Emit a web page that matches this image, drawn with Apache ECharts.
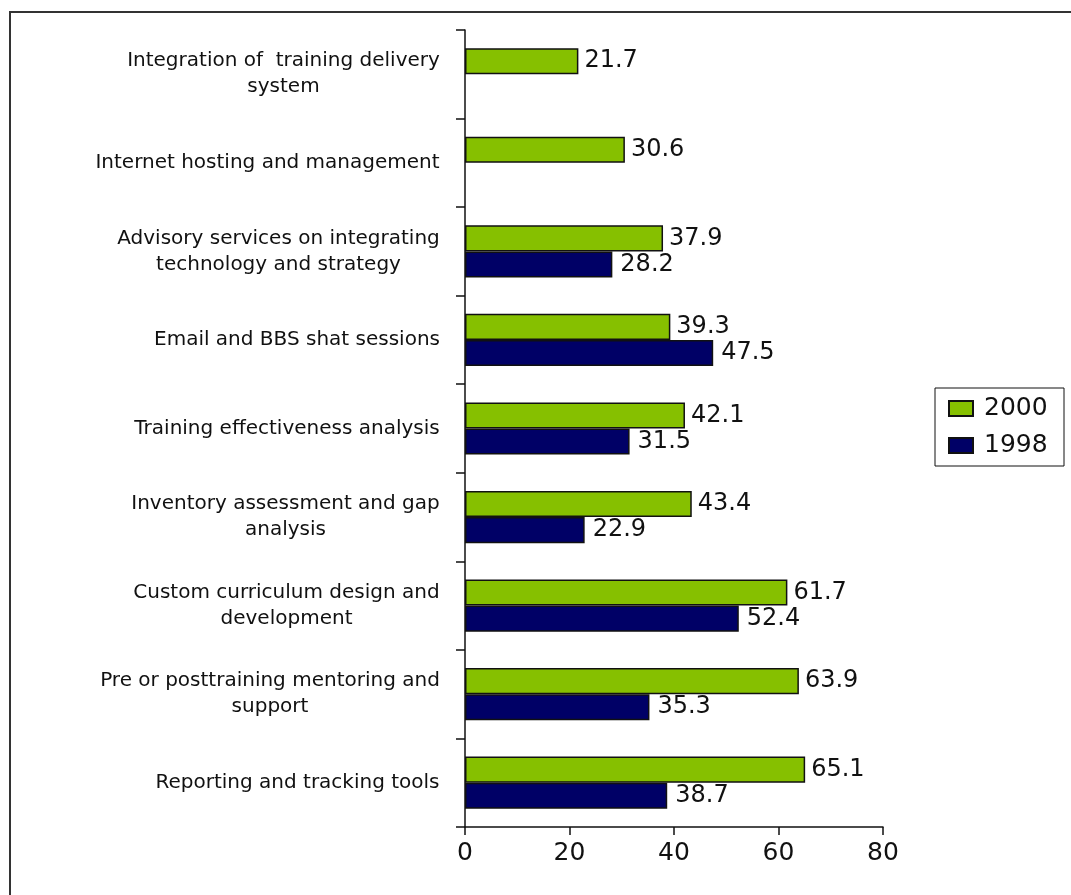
<!DOCTYPE html>
<html>
<head>
<meta charset="utf-8">
<script src="https://cdn.jsdelivr.net/npm/echarts@6/dist/echarts.min.js"></script>
<style>
  html, body { margin: 0; padding: 0; background: #fff; }
  #chart { width: 1071px; height: 895px; }
</style>
</head>
<body>
<div id="chart"></div>
<script>
// Service categories, top to bottom
const categories = [
  'Integration of  training delivery\nsystem',
  'Internet hosting and management',
  'Advisory services on integrating\ntechnology and strategy',
  'Email and BBS shat sessions',
  'Training effectiveness analysis',
  'Inventory assessment and gap\nanalysis',
  'Custom curriculum design and\ndevelopment',
  'Pre or posttraining mentoring and\nsupport',
  'Reporting and tracking tools'
];
const seriesNames = ['2000', '1998'];
const values2000 = [21.7, 30.6, 37.9, 39.3, 42.1, 43.4, 61.7, 63.9, 65.1];
const values1998 = [null, null, 28.2, 47.5, 31.5, 22.9, 52.4, 35.3, 38.7];
const axisTicks = [0, 20, 40, 60, 80];

const FONT = '"DejaVu Sans", "Liberation Sans", Arial, sans-serif';
const CAT_SIZE = 20;

// Width of the widest line of each category label, so the lines can be centred in one block
const measure = document.createElement('canvas').getContext('2d');
measure.font = CAT_SIZE + 'px ' + FONT;
const rich = {};
categories.forEach((c, i) => {
  const w = Math.max(...c.split('\n').map(l => measure.measureText(l).width));
  rich['c' + i] = {
    width: Math.ceil(w) + 2,
    align: 'center',
    fontFamily: FONT,
    fontSize: CAT_SIZE,
    lineHeight: 26,
    color: '#111'
  };
});

const chart = echarts.init(document.getElementById('chart'));
chart.setOption({
  animation: false,
  backgroundColor: '#fff',
  textStyle: { fontFamily: FONT },
  graphic: [{
    type: 'rect',
    shape: { x: 10, y: 12, width: 1200, height: 1000 },
    style: { fill: 'none', stroke: '#333', lineWidth: 2 },
    silent: true
  }],
  legend: {
    orient: 'vertical',
    left: 935,
    top: 388,
    data: seriesNames,
    icon: 'rect',
    itemWidth: 24,
    itemHeight: 15,
    itemGap: 12,
    padding: [8, 4, 8, 13],
    borderColor: '#111',
    borderWidth: 1,
    textStyle: { fontFamily: FONT, fontSize: 25, color: '#111', padding: [0, 0, 0, 6], width: 76, lineHeight: 25 }
  },
  grid: { left: 465, right: 188, top: 30, bottom: 68, containLabel: false },
  xAxis: {
    type: 'value',
    min: axisTicks[0],
    max: axisTicks[axisTicks.length - 1],
    interval: axisTicks[1] - axisTicks[0],
    axisLine: { show: true, lineStyle: { color: '#111', width: 1.5 } },
    axisTick: { show: true, length: 8, lineStyle: { color: '#111', width: 1.5 } },
    splitLine: { show: false },
    axisLabel: { fontFamily: FONT, fontSize: 25, color: '#111', margin: 14 }
  },
  yAxis: {
    type: 'category',
    inverse: true,
    data: categories,
    axisLine: { show: true, lineStyle: { color: '#111', width: 1.5 } },
    axisTick: { show: true, length: 9, lineStyle: { color: '#111', width: 1.5 } },
    axisLabel: {
      margin: 24,
      interval: 0,
      formatter: (val, idx) => val.split('\n').map(l => '{c' + idx + '|' + l + '}').join('\n'),
      rich: rich
    }
  },
  series: [
    {
      name: seriesNames[0],
      type: 'bar',
      data: values2000,
      barCategoryGap: '41%',
      barGap: '0%',
      itemStyle: { color: '#86c000', borderColor: '#111', borderWidth: 1.5 },
      label: { show: true, position: 'right', distance: 6, fontFamily: FONT, fontSize: 24, color: '#111' }
    },
    {
      name: seriesNames[1],
      type: 'bar',
      data: values1998,
      barCategoryGap: '41%',
      barGap: '0%',
      itemStyle: { color: '#000066', borderColor: '#111', borderWidth: 1.5 },
      label: { show: true, position: 'right', distance: 8, fontFamily: FONT, fontSize: 24, color: '#111' }
    }
  ]
});
</script>
</body>
</html>
